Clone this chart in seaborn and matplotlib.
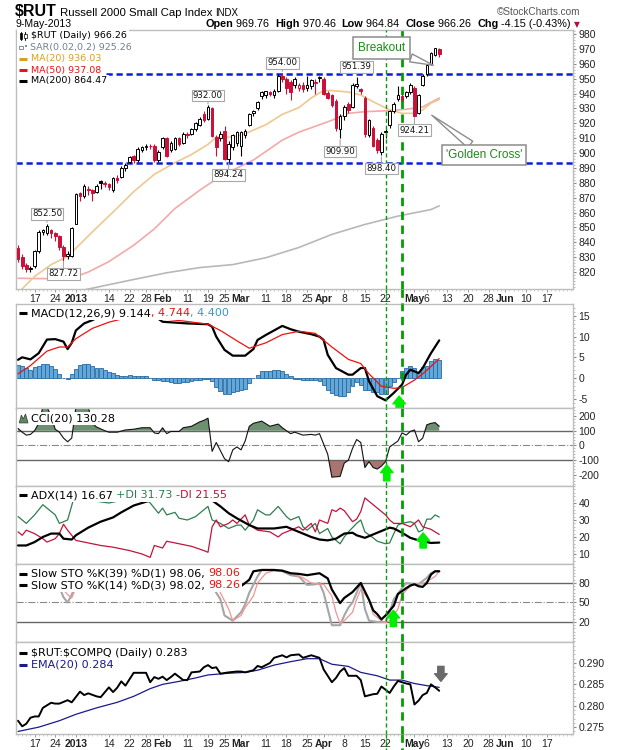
import numpy as np
import pandas as pd
import seaborn as sns
import matplotlib
matplotlib.use("Agg")
import matplotlib.pyplot as plt
import matplotlib.transforms as mtransforms
from matplotlib.lines import Line2D
from matplotlib.patches import Rectangle, Polygon
from matplotlib.ticker import FormatStrFormatter, MultipleLocator
from matplotlib.offsetbox import TextArea, HPacker, DrawingArea, AnchoredOffsetbox

# ---------------- data ----------------
holidays = ["2012-12-25", "2013-01-01", "2013-01-21", "2013-02-18", "2013-03-29", "2013-05-27"]

opens = [836, 830, 825, 822, 824, 834, 847, 846, 848, 846,
         844, 837, 831, 831, 852, 873, 871, 876, 875, 874,
         881, 880, 879, 875, 883, 884, 890, 894, 898, 895,
         902, 904, 905, 905, 895, 904, 910, 902, 903, 910,
         907, 913, 913, 916, 919, 926, 923, 930, 911, 910,
         915, 896, 904, 907, 905, 912, 919, 927, 930, 938,
         939, 941, 939, 942, 952, 950, 948, 946, 944, 946,
         944, 945, 947, 950.5, 950, 940.5, 939, 935, 916, 925,
         933, 931, 945, 943, 937, 912, 917, 909, 901, 914,
         919, 928, 936, 938, 938, 941, 944, 927, 946, 953,
         960, 966, 969.76]
highs = [838, 832, 826, 824, 835, 848, 849, 852.5, 849, 847,
         845, 838, 834, 850, 873, 874, 879, 878, 876, 879,
         882, 881, 880, 884, 885, 891, 893, 898, 899, 904,
         905, 906, 906, 906, 902, 911, 911, 908, 911, 911,
         914, 914, 917, 921, 924, 928, 932, 931, 912, 915,
         918, 908, 913, 915, 915, 916, 927, 929, 935, 942,
         942, 942, 943, 953, 954, 951, 949, 951, 947, 948,
         952, 950, 950, 951.5, 951, 942, 940, 936, 926, 932,
         934, 947, 951.39, 944, 938, 923, 918, 910, 914, 916,
         929, 934, 945, 940, 942, 947, 945, 940, 953, 960,
         968, 970.7, 970.46]
lows = [827, 822, 820, 820, 823, 833, 845, 845, 843, 841,
        835, 827.72, 829, 830, 852, 868, 870, 872, 868, 873,
        876, 877, 875, 874, 880, 883, 888, 893, 893, 894,
        901, 902, 903, 894, 894, 903, 897, 901, 902, 905,
        906, 910, 912, 915, 918, 921, 922, 911, 898, 908,
        895, 894.24, 902, 905, 898, 910, 918, 925, 929, 936,
        937, 938, 937, 941, 948, 940, 935.5, 944, 942, 941,
        942, 943, 940, 948, 939, 936, 931, 915, 909.9, 922,
        927, 930, 944, 940, 911, 911, 904, 900, 898.4, 910,
        917, 927, 935, 934, 937, 940, 924.21, 926, 945, 952,
        959, 965, 964.84]
closes = [829, 824, 822, 823, 834, 847, 848, 851, 846, 844,
          837, 831, 832, 849.35, 872.6, 871, 878, 875, 873, 878,
          880, 879, 877, 883, 882, 890, 892, 897, 895, 903,
          904, 905, 904.5, 895, 901, 910, 898, 907, 910, 906,
          913, 912, 916, 920, 923, 922, 931, 911.5, 904, 913,
          896, 906, 912, 914, 914, 915, 926, 928.5, 934, 941,
          941.5, 940, 942, 952, 950, 944, 941, 950, 946, 943,
          946, 949, 948, 951, 940, 937, 932, 917, 925, 931,
          929, 946, 946.5, 942, 913, 922, 905, 902, 913, 915,
          928, 933, 939, 935, 941, 946, 925, 939, 952, 959,
          967, 970.41, 966.26]

ma20_idx = [0, 4, 8, 12, 14, 18, 24, 28, 33, 38, 42, 46, 48, 52, 55, 60, 64, 68, 71, 74,
            76, 80, 83, 86, 90, 93, 96, 98, 100, 102]
ma20_val = [806, 817, 825, 830.5, 836, 847, 863, 874, 885.7, 893.5, 899, 905.8, 910.7, 910.7,
            913, 919, 926, 930.5, 937, 942, 942, 941, 939, 934.5, 929, 926.7, 926.7, 929, 933.5, 936]
ma50_idx = [0, 8, 14, 17, 22, 28, 33, 38, 44, 47, 52, 57, 60, 64, 68, 72, 76, 80, 84, 90, 94, 98, 102]
ma50_val = [815.8, 815.5, 817, 820, 827, 838, 849, 862.7, 875, 880.6, 888.5, 895.3, 901, 908.7,
            914, 918, 922, 926.7, 927.8, 928.5, 929.4, 931, 937]
ma200_idx = [16, 28, 36, 44, 52, 60, 68, 76, 84, 92, 100, 102]
ma200_val = [808, 815, 819.5, 823, 825, 829.6, 836.5, 845.3, 852, 857.6, 862, 864.5]

resistance = 953.0
support = 893.5

label_dates = ["2012-12-20", "2012-12-27", "2013-02-19", "2013-02-26", "2013-03-15",
               "2013-04-11", "2013-04-05", "2013-04-19", "2013-05-01"]
label_side = ["high", "low", "high", "low", "high", "high", "low", "low", "low"]

signal_dates = ["2013-04-22", "2013-04-26"]

macd_idx = [0, 1, 3, 5, 7, 9, 11, 12, 13, 14, 16, 18, 20, 21, 22, 25, 28, 31, 33, 35,
            38, 41, 46, 47, 48, 50, 52, 55, 57, 58, 60, 64, 66, 68, 71, 73, 74, 75, 77, 80,
            81, 83, 84, 85, 87, 89, 91, 93, 94, 95, 97, 98, 100, 102]
macd_val = [4.4, 5.0, 4.5, 6.0, 9.3, 9.4, 8.8, 7.0, 8.5, 11.5, 13.2, 14.0, 15.0, 15.5, 15.8, 15.2,
            15.6, 15.4, 15.0, 13.6, 13.4, 13.2, 13.0, 12.4, 10.0, 6.8, 5.4, 5.4, 7.0, 9.2,
            10.4, 12.6, 11.8, 11.2, 10.6, 10.0, 9.2, 5.6, 2.4, 0.8, 0.8, 2.4, 2.4, -0.8, -4.4,
            -5.4, -3.6, -1.6, 0.8, 2.0, 1.2, 2.4, 6.0, 9.1]
signal_idx = [0, 3, 7, 10, 12, 14, 18, 22, 26, 29, 34, 36, 40, 46, 49, 53, 56, 60, 64, 68,
              72, 76, 80, 83, 85, 88, 91, 93, 96, 98, 100, 102]
signal_val = [1.0, 3.0, 6.5, 7.5, 7.5, 9.5, 12.0, 13.5, 14.5, 15.0, 15.0, 14.2, 13.8, 13.0, 11.5,
              9.0, 7.2, 8.5, 10.5, 11.3, 10.8, 7.5, 4.5, 3.5, 1.0, -2.0, -2.5, -2.3, -0.5, 1.0,
              2.8, 4.7]
macd_hist = [3.2, 3.0, 2.5, 2.0, 2.6, 3.0, 3.4, 3.4, 2.8, 2.1,
             1.0, 0.0, -0.2, 1.0, 2.1, 3.1, 3.3, 3.3, 3.0, 2.5,
             2.5, 2.0, 1.5, 1.3, 0.8, 0.5, 0.6, 0.8, 0.6, 0.5,
             0.5, 0.4, 0.1, -0.4, -0.5, -0.8, -0.8, -1.0, -1.2, -1.2,
             -1.0, -1.0, -0.8, -0.6, -0.5, -0.2, -0.2, -0.8, -2.1, -3.1,
             -3.8, -3.9, -3.5, -3.2, -2.9, -2.6, -1.3, 0.1, 0.8, 1.7,
             1.8, 1.8, 2.0, 2.0, 1.6, 1.0, 0.5, -0.2, -0.3, -0.5,
             -0.5, -0.4, -0.5, -0.8, -1.8, -2.8, -3.7, -4.0, -4.4, -4.4,
             -3.5, -2.0, -0.9, -1.8, -2.8, -3.0, -3.3, -3.5, -3.8, -3.8,
             -2.0, -1.0, 0.1, 1.6, 2.5, 2.8, 2.3, 1.5, 2.6, 3.0,
             4.0, 4.6, 4.4]

cci_idx = [0, 1, 2, 3, 4, 5, 6, 7, 8, 9, 10, 11, 12, 13, 14, 17, 18, 19, 21, 22, 24, 26, 28, 30,
           32, 33, 34, 35, 36, 37, 39, 40, 42, 44, 45, 46, 47, 48, 50, 51, 52, 53, 54, 55, 56,
           57, 59, 61, 63, 64, 66, 67, 69, 71, 72, 73, 74, 75, 76, 78, 79, 80, 81, 82, 83, 84,
           85, 86, 87, 88, 89, 90, 92, 93, 94, 95, 96, 97, 98, 99, 100, 101, 102]
cci_val = [115, 90, 70, 75, 100, 150, 260, 260, 200, 110, 90, 50, 25, 50, 260, 260, 150, 125,
           100, 90, 90, 105, 110, 120, 120, 85, 80, 120, 80, 95, 95, 120, 130, 160, 170, 185,
           -40, 20, -90, -110, -30, -10, -30, 30, 130, 150, 165, 130, 145, 120, 80, 90, 70, 75,
           70, 80, 10, -60, -215, -210, -120, -100, -20, 40, 20, -150, -110, -150, -160, -140,
           -110, -10, 30, 85, 70, 95, 105, 25, 50, 140, 150, 155, 130]

adx_idx = [0, 2, 4, 6, 8, 10, 11, 13, 14, 17, 20, 23, 25, 28, 30, 32, 35, 39, 42, 44, 46, 47,
           49, 51, 53, 56, 58, 62, 65, 68, 71, 73, 75, 77, 79, 81, 82, 84, 86, 88, 90, 91, 93,
           95, 97, 99, 100, 102]
adx_val = [15, 15, 17, 20, 22, 22, 19, 18.5, 21, 25.5, 29, 31.5, 34.5, 38.5, 40, 41.5, 44, 43,
           43, 42.5, 43, 41.5, 38, 34, 31, 27, 25, 25, 26, 23, 20, 18.5, 18, 19, 22, 22.5, 21,
           19.5, 21.5, 23.5, 25.5, 25, 22.5, 19.5, 18, 17, 16.5, 16.7]
pdi_idx = [0, 1, 2, 4, 6, 7, 9, 10, 12, 14, 16, 19, 22, 24, 26, 28, 31, 32, 34, 35, 36, 38, 39,
           41, 43, 45, 46, 47, 49, 51, 53, 54, 55, 57, 58, 60, 61, 63, 65, 66, 68, 69, 70, 72,
           73, 75, 76, 78, 79, 80, 82, 83, 84, 86, 87, 89, 90, 91, 92, 93, 95, 96, 97, 98, 99,
           100, 101, 102]
pdi_val = [32, 30, 28, 33, 39, 37, 33, 28, 30, 47, 42, 41, 40, 41, 42, 45, 42, 40, 34, 37, 33,
           34.5, 31, 30, 32, 36, 38, 30, 28, 25, 27, 27, 24, 30, 36, 33, 33, 38, 32, 30, 32, 26,
           24, 28, 22, 25, 20, 16, 20, 23, 28, 30, 23, 19.5, 17.5, 16, 16.5, 22, 27, 28, 29, 28,
           23, 24, 30.5, 30.5, 33, 31.7]
mdi_idx = [0, 1, 2, 4, 6, 7, 9, 10, 11, 12, 14, 17, 20, 23, 27, 30, 32, 33, 35, 36, 39, 42, 45,
           46, 47, 48, 49, 51, 52, 53, 55, 56, 58, 61, 63, 64, 66, 68, 69, 71, 72, 73, 75, 76,
           77, 78, 79, 81, 82, 83, 84, 86, 87, 89, 90, 91, 93, 95, 97, 98, 100, 101, 102]
mdi_val = [23, 21, 24, 22, 19, 17, 19, 22, 27.5, 24, 18, 16.5, 15, 14, 12, 10, 8, 15, 13.5, 17.5,
           16, 14.5, 12, 11, 26, 30, 26, 28, 30, 28, 33, 27, 24, 23, 20, 22, 24, 26, 24, 28, 23,
           30, 28, 36, 35, 37, 35.5, 29, 30.5, 35, 43, 39, 37, 33, 30, 28, 28, 26, 30, 26, 24.5,
           23, 21.5]

sto39_idx = [46, 48, 50, 52, 53, 54, 56, 57, 59, 62, 64, 66, 68, 70, 72, 73, 75, 76, 78, 79,
             81, 83, 85, 86, 87, 88, 89, 91, 92, 94, 95, 96, 97, 98, 99, 100, 101, 102]
sto39_val = [93, 88, 84, 77, 75, 75, 85, 98, 100, 100, 99, 95, 94, 92, 94, 95, 87, 70, 49, 57,
             66, 80, 54, 38, 32, 24, 30, 45, 63, 72, 76, 78, 75, 74, 80, 93, 98, 98]
sto14k_idx = [2, 3, 4, 10, 11, 12, 13, 14, 46, 47, 49, 50, 52, 54, 55, 56, 58, 59, 62, 64, 66,
              68, 70, 72, 73, 74, 75, 76, 78, 79, 80, 81, 83, 84, 85, 87, 89, 90, 91, 93, 94,
              96, 97, 99, 100, 101, 102]
sto14k_val = [75, 71, 74, 74, 58, 50, 62, 77, 88, 75, 55, 30, 22, 35, 47, 65, 90, 100, 100, 98,
              92, 90, 77, 78, 80, 65, 40, 15, 15, 30, 42, 50, 80, 40, 22, 20, 20, 35, 55, 72, 80,
              78, 78, 88, 95, 98, 98]
sto14d_idx = [10, 12, 13, 14, 46, 48, 49, 51, 52, 54, 55, 57, 58, 60, 62, 64, 66, 69, 71, 73,
              74, 76, 77, 78, 79, 81, 82, 83, 85, 86, 88, 89, 90, 92, 93, 95, 96, 98, 99, 101, 102]
sto14d_val = [77, 62, 57, 72, 92, 85, 65, 40, 22, 30, 42, 60, 80, 95, 99, 98, 95, 88, 80, 78, 78,
              60, 35, 17, 22, 35, 55, 70, 55, 32, 22, 19, 22, 40, 62, 75, 79, 79, 82, 90, 98]

ratio_idx = [0, 1, 2, 3, 4, 5, 6, 8, 9, 10, 12, 13, 15, 16, 17, 19, 20, 22, 23, 24, 25, 26, 28,
             29, 31, 32, 33, 34, 35, 36, 37, 38, 40, 41, 42, 44, 45, 46, 47, 48, 49, 51, 53, 54,
             55, 57, 58, 59, 61, 62, 64, 65, 66, 68, 69, 71, 72, 73, 74, 75, 76, 77, 78, 79, 80,
             82, 83, 84, 86, 87, 88, 90, 91, 92, 94, 95, 96, 97, 98, 99, 100, 101, 102]
ratio_val = [0.2765, 0.2752, 0.2758, 0.2772, 0.2775, 0.2775, 0.2795, 0.2807, 0.2805, 0.2805,
             0.2813, 0.2808, 0.2833, 0.2825, 0.2829, 0.2822, 0.2820, 0.2843, 0.2832, 0.2842,
             0.2857, 0.2847, 0.2877, 0.2877, 0.2877, 0.2855, 0.2867, 0.2863, 0.2868, 0.2860,
             0.2867, 0.2875, 0.2860, 0.2860, 0.2878, 0.2880, 0.2890, 0.2895, 0.2888, 0.2890,
             0.2875, 0.2878, 0.2880, 0.2880, 0.2878, 0.2883, 0.2893, 0.2890, 0.2900, 0.2912,
             0.2918, 0.2913, 0.2918, 0.2920, 0.2912, 0.2918, 0.2915, 0.2912, 0.2885, 0.2870,
             0.2855, 0.2865, 0.2880, 0.2888, 0.2870, 0.2870, 0.2860, 0.2822, 0.2827, 0.2828,
             0.2845, 0.2830, 0.2845, 0.2858, 0.2852, 0.2850, 0.2803, 0.2812, 0.2825, 0.2830,
             0.2850, 0.2843, 0.2835]
ema_idx = [0, 5, 10, 14, 19, 24, 28, 32, 35, 39, 43, 46, 51, 55, 58, 62, 66, 70, 73, 76,
           80, 83, 87, 90, 93, 96, 99, 102]
ema_val = [0.2740, 0.2750, 0.2765, 0.2780, 0.2795, 0.2808, 0.2822, 0.2840, 0.2850, 0.2857,
           0.2865, 0.2872, 0.2876, 0.2878, 0.2883, 0.2895, 0.2903, 0.2910, 0.2910, 0.2897,
           0.2892, 0.2878, 0.2870, 0.2860, 0.2860, 0.2852, 0.2847, 0.2843]

tick_dates = ["2012-12-17", "2012-12-24", "2013-01-02", "2013-01-14", "2013-01-22", "2013-01-28",
              "2013-02-01", "2013-02-11", "2013-02-19", "2013-02-25", "2013-03-01", "2013-03-11",
              "2013-03-18", "2013-03-25", "2013-04-01", "2013-04-08", "2013-04-15", "2013-04-22",
              "2013-05-01", "2013-05-06", "2013-05-13", "2013-05-20", "2013-05-28", "2013-06-03",
              "2013-06-10", "2013-06-17"]
tick_text = ["17", "24", "2013", "14", "22", "28", "Feb", "11", "19", "25", "Mar", "11", "18",
             "25", "Apr", "8", "15", "22", "May", "6", "13", "20", "28", "Jun", "10", "17"]

# ---------------- set-up ----------------
sns.set_theme(style="white")
plt.rcParams["font.family"] = ["Liberation Sans", "DejaVu Sans"]
plt.rcParams["axes.unicode_minus"] = False

cal = pd.bdate_range("2012-12-11", "2013-07-03")
cal = cal[~cal.isin(pd.to_datetime(holidays))]
pos = {d.strftime("%Y-%m-%d"): i for i, d in enumerate(cal)}
days = np.arange(len(closes))

W, H = 620, 750
fig = plt.figure(figsize=(6.2, 7.5), dpi=100)
fig.patch.set_facecolor("white")


def px_rect(y0, y1, x0=16, x1=573):
    return [x0 / W, 1 - y1 / H, (x1 - x0) / W, (y1 - y0) / H]


ax_main = fig.add_axes(px_rect(30, 289))
ax_macd = fig.add_axes(px_rect(304, 408))
ax_cci = fig.add_axes(px_rect(408, 486))
ax_adx = fig.add_axes(px_rect(486, 564))
ax_sto = fig.add_axes(px_rect(564, 642))
ax_rat = fig.add_axes(px_rect(642, 734))
axes = [ax_main, ax_macd, ax_cci, ax_adx, ax_sto, ax_rat]

RED = "#cc1038"
GREEN = "#00a000"

# ---------------- price panel ----------------
for i in days:
    o, h, l, c = opens[i], highs[i], lows[i], closes[i]
    prev = closes[i - 1] if i > 0 else o
    col = RED if c < prev else "black"
    filled = c < o
    ax_main.vlines(i, l, h, color=col, lw=0.8, zorder=3)
    ax_main.add_patch(Rectangle((i - 0.32, min(o, c)), 0.64, max(abs(c - o), 0.35),
                                facecolor=col if filled else "white", edgecolor=col,
                                lw=0.7, zorder=3.1))

sns.lineplot(x=ma200_idx, y=ma200_val, ax=ax_main, color="#b8b8b8", linewidth=1.2, zorder=2)
sns.lineplot(x=ma50_idx, y=ma50_val, ax=ax_main, color="#f4a9a9", linewidth=1.2, zorder=2)
sns.lineplot(x=ma20_idx, y=ma20_val, ax=ax_main, color="#efc890", linewidth=1.2, zorder=2)

for lvl in (resistance, support):
    ax_main.axhline(lvl, color="#0a1ed8", lw=1.8, ls=(0, (2.5, 1.5)), zorder=2.5)

for d, side in zip(label_dates, label_side):
    i = pos[d]
    val = highs[i] if side == "high" else lows[i]
    ax_main.annotate(f"{val:.2f}", xy=(i, val), xytext=(0, 7 if side == "high" else -9.5),
                     textcoords="offset points", ha="center", va="center", fontsize=6.2,
                     family="DejaVu Sans", color="#111111", zorder=5,
                     bbox=dict(boxstyle="square,pad=0.15", fc="white", ec="#a8a8a8", lw=0.8),
                     arrowprops=dict(arrowstyle="-", color="#a8a8a8", lw=0.8, shrinkA=0, shrinkB=1))

ax_main.annotate("Breakout", xy=(100.6, 959), xytext=(88.1, 970.3), textcoords="data",
                 ha="center", va="center", fontsize=8.5, color="#1b8a1b", zorder=6,
                 bbox=dict(boxstyle="square,pad=0.42", fc="white", ec="#8c8c8c", lw=1.1),
                 arrowprops=dict(arrowstyle="wedge,tail_width=0.7,shrink_factor=0.5",
                                 fc="white", ec="#8c8c8c", lw=1, shrinkA=0, shrinkB=0))
ax_main.annotate("'Golden Cross'", xy=(100.2, 925.4), xytext=(112.8, 898.8), textcoords="data",
                 ha="center", va="center", fontsize=8.5, color="#1b8a1b", zorder=6,
                 bbox=dict(boxstyle="square,pad=0.32", fc="white", ec="#8c8c8c", lw=1.1),
                 arrowprops=dict(arrowstyle="wedge,tail_width=0.7,shrink_factor=0.5",
                                 fc="white", ec="#8c8c8c", lw=1, shrinkA=0, shrinkB=0))
ax_main.set_ylim(808.6, 982.7)
ax_main.set_yticks(np.arange(820, 981, 10))
ax_main.yaxis.set_minor_locator(MultipleLocator(2))

# ---------------- MACD ----------------
ax_macd.bar(days, macd_hist, width=0.95, color="#62a8d8", edgecolor="#2a69a0", lw=0.6, zorder=2)
sns.lineplot(x=macd_idx, y=macd_val, ax=ax_macd, color="black", linewidth=1.6, zorder=3)
sns.lineplot(x=signal_idx, y=signal_val, ax=ax_macd, color="#ee1111", linewidth=0.9, zorder=3)
ax_macd.set_ylim(-7.26, 17.9)
ax_macd.set_yticks([-5, 0, 5, 10, 15])
ax_macd.yaxis.set_minor_locator(MultipleLocator(1))

# ---------------- CCI ----------------
cx = np.array(cci_idx, dtype=float)
cy = np.array(cci_val, dtype=float)
ax_cci.fill_between(cx, cy, 100, where=cy > 100, interpolate=True, color="#6d9070", lw=0, zorder=1)
ax_cci.fill_between(cx, cy, -100, where=cy < -100, interpolate=True, color="#a87570", lw=0, zorder=1)
ax_cci.axhline(100, color="#666666", lw=1.0, zorder=1.5)
ax_cci.axhline(-100, color="#666666", lw=1.0, zorder=1.5)
ax_cci.axhline(0, color="#888888", lw=0.8, ls="-.", zorder=1.5)
sns.lineplot(x=cci_idx, y=cci_val, ax=ax_cci, color="#111111", linewidth=0.8, zorder=2)
ax_cci.set_ylim(-275, 254)
ax_cci.set_yticks([-200, -100, 0, 100, 200])
ax_cci.yaxis.set_minor_locator(MultipleLocator(20))

# ---------------- ADX ----------------
sns.lineplot(x=pdi_idx, y=pdi_val, ax=ax_adx, color="#2e7d4f", linewidth=0.9, zorder=2)
sns.lineplot(x=mdi_idx, y=mdi_val, ax=ax_adx, color="#c0143c", linewidth=0.9, zorder=2)
sns.lineplot(x=adx_idx, y=adx_val, ax=ax_adx, color="black", linewidth=1.6, zorder=3)
ax_adx.set_ylim(4.1, 50)
ax_adx.set_yticks([10, 20, 30, 40])
ax_adx.yaxis.set_minor_locator(MultipleLocator(2))


# ---------------- Slow stochastics ----------------
def runs(idx, vals, gap=3):
    out, cur = [], [[idx[0]], [vals[0]]]
    for a, b in zip(idx[1:], vals[1:]):
        if a - cur[0][-1] > gap:
            out.append(cur)
            cur = [[a], [b]]
        else:
            cur[0].append(a)
            cur[1].append(b)
    out.append(cur)
    return out


ax_sto.axhline(80, color="#666666", lw=1.0, zorder=1)
ax_sto.axhline(20, color="#666666", lw=1.0, zorder=1)
ax_sto.axhline(50, color="#888888", lw=0.8, ls="-.", zorder=1)
for xs, ys in runs(sto14k_idx, sto14k_val):
    sns.lineplot(x=xs, y=ys, ax=ax_sto, color="#a6a6a6", linewidth=1.5, zorder=2)
for xs, ys in runs(sto14d_idx, sto14d_val):
    sns.lineplot(x=xs, y=ys, ax=ax_sto, color="#f29494", linewidth=0.9, zorder=2.2)
sns.lineplot(x=sto39_idx, y=sto39_val, ax=ax_sto, color="black", linewidth=1.6, zorder=3)
ax_sto.set_ylim(-10.8, 109.2)
ax_sto.set_yticks([20, 50, 80])
ax_sto.yaxis.set_minor_locator(MultipleLocator(5))

# ---------------- $RUT:$COMPQ ----------------
sns.lineplot(x=ema_idx, y=ema_val, ax=ax_rat, color="#1a1a8c", linewidth=0.9, zorder=2)
sns.lineplot(x=ratio_idx, y=ratio_val, ax=ax_rat, color="black", linewidth=1.4, zorder=3)
ax_rat.set_ylim(0.2734, 0.2949)
ax_rat.set_yticks([0.275, 0.280, 0.285, 0.290])
ax_rat.yaxis.set_major_formatter(FormatStrFormatter("%.3f"))
ax_rat.yaxis.set_minor_locator(MultipleLocator(0.001))

# ---------------- block arrows ----------------
def block_arrow(ax, x, y_tip, y_base, color):
    ax.annotate("", xy=(x, y_tip), xytext=(x, y_base), zorder=6, annotation_clip=False,
                arrowprops=dict(arrowstyle="simple,head_length=0.55,head_width=0.9,tail_width=0.45",
                                color=color, shrinkA=0, shrinkB=0, mutation_scale=10))


block_arrow(ax_macd, 92.3, -4.4, -7.2, "#00ee00")
block_arrow(ax_cci, 89.3, -132, -240, "#00ee00")
block_arrow(ax_adx, 98.1, 22.4, 13.5, "#00ee00")
block_arrow(ax_sto, 90.9, 38, 13, "#00ee00")
block_arrow(ax_rat, 102.4, 0.2857, 0.2892, "#6a6a6a")

# ---------------- axes styling ----------------
tick_pos = [pos[d] for d in tick_dates]
for ax in axes:
    ax.set_xlim(-0.5, 134.4)
    ax.set_xlabel("")
    ax.set_ylabel("")
    for sp in ax.spines.values():
        sp.set_color("#bdbdbd")
        sp.set_linewidth(1.0)
    ax.yaxis.tick_right()
    ax.tick_params(axis="y", which="major", direction="out", length=2.5, width=0.8,
                   color="#8a8a8a", pad=1.5, labelsize=7.5, labelcolor="#222222",
                   right=True, left=False)
    ax.tick_params(axis="y", which="minor", direction="out", length=1.3, width=0.6,
                   color="#b0b0b0", right=True, left=False)
    ax.set_xticks(tick_pos)
    ax.tick_params(axis="x", which="both", length=0, labelbottom=False)

for ax in (ax_main, ax_rat):
    ax.set_xticks(tick_pos)
    ax.set_xticklabels(tick_text)
    ax.set_xticks(np.arange(0, 135), minor=True)
    ax.tick_params(axis="x", which="major", bottom=True, length=2, width=0.7, color="#999999",
                   labelbottom=True, labelsize=7.5, pad=1.5, labelcolor="#222222")
    ax.tick_params(axis="x", which="minor", bottom=True, length=1.1, width=0.5, color="#bbbbbb")
    for lbl, t in zip(ax.get_xticklabels(), tick_text):
        if not t.isdigit() or len(t) == 4:
            lbl.set_fontweight("bold")

# ---------------- green signal verticals ----------------
blend = mtransforms.blended_transform_factory(ax_main.transData, fig.transFigure)
for d, lw in zip(signal_dates, [1.0, 2.0]):
    x = pos[d]
    for ax in axes:
        ax.axvline(x, color=GREEN, lw=lw, ls=(0, (3, 2)), zorder=3.5)
    for y0, y1 in [(289, 304), (734, 750)]:
        fig.add_artist(Line2D([x, x], [1 - y0 / H, 1 - y1 / H], transform=blend, color=GREEN,
                              lw=lw, ls=(0, (3, 2))))


# ---------------- legends / labels ----------------
def dash_icon(color, lw=2.2):
    da = DrawingArea(8.5, 6, 0, 0)
    da.add_artist(Line2D([0.3, 5.6], [3, 3], color=color, lw=lw, solid_capstyle="butt"))
    return da


def candle_icon():
    da = DrawingArea(9, 7, 0, 0)
    da.add_artist(Line2D([1.6, 1.6], [0.3, 6.7], color="black", lw=0.7))
    da.add_artist(Rectangle((0.6, 1.5), 2.0, 4.0, fc="black", ec="black", lw=0.5))
    da.add_artist(Line2D([4.6, 4.6], [0.3, 6.7], color="black", lw=0.7))
    da.add_artist(Rectangle((3.6, 2.0), 2.0, 3.2, fc="white", ec="black", lw=0.5))
    return da


def sar_icon():
    da = DrawingArea(8, 6, 0, 0)
    da.add_artist(Rectangle((0.4, 1.6), 2.8, 2.8, fc="white", ec="#8090a0", lw=0.7))
    da.add_artist(Rectangle((4.4, 3.6), 1.2, 1.2, fc="#8090a0", ec="none"))
    return da


def mountain_icon():
    da = DrawingArea(9, 7, 0, 0)
    da.add_artist(Polygon([(0.3, 0.3), (1.8, 6.0), (3.2, 3.2), (4.8, 6.8), (6.6, 0.3)],
                          closed=True, fc="#5e8a60", ec="#333333", lw=0.5))
    return da


def legend_row(ax, x_px, y_px, parts, icon=None, size=8.0, loc="center left"):
    kids = [icon] if icon is not None else []
    for s, c in parts:
        kids.append(TextArea(s, textprops=dict(color=c, fontsize=size, family="DejaVu Sans")))
    row = HPacker(children=kids, align="center", pad=0, sep=0)
    box = AnchoredOffsetbox(loc=loc, child=row, pad=0.12, borderpad=0, frameon=True,
                            bbox_to_anchor=(x_px / W, 1 - y_px / H),
                            bbox_transform=fig.transFigure)
    box.patch.set_facecolor("white")
    box.patch.set_edgecolor("none")
    box.set_zorder(7)
    ax.add_artist(box)


legend_row(ax_main, 17, 36, [(f"\\$RUT (Daily) {closes[-1]:.2f}", "black")], candle_icon(), 6.8)
legend_row(ax_main, 17, 47.5, [("SAR(0.02,0.2) 925.26", "#708090")], sar_icon(), 6.8)
legend_row(ax_main, 17, 59, [("MA(20) 936.03", "#d8a020")], dash_icon("#d8a020"), 6.8)
legend_row(ax_main, 17, 70, [("MA(50) 937.08", "#ee1111")], dash_icon("#ee1111"), 6.8)
legend_row(ax_main, 17, 81, [("MA(200) 864.47", "black")], dash_icon("black"), 6.8)

legend_row(ax_macd, 17, 313.5, [("MACD(12,26,9) 9.144", "black"), (", 4.744", "#ee1111"),
                                (", 4.400", "#3a96cc")], dash_icon("black"))
legend_row(ax_cci, 17, 418.5, [("CCI(20) 130.28", "black")], mountain_icon())
legend_row(ax_adx, 17, 495.5, [("ADX(14) 16.67 ", "black"), ("+DI 31.73 ", "#2e7d4f"),
                               ("-DI 21.55", "#b5163b")], dash_icon("black"))
legend_row(ax_sto, 17, 573.5, [("Slow STO %K(39) %D(1) 98.06, ", "black"), ("98.06", "#ee1111")],
           dash_icon("black"))
legend_row(ax_sto, 17, 585, [("Slow STO %K(14) %D(3) 98.02, ", "black"), ("98.26", "#ee1111")],
           dash_icon("black"))
legend_row(ax_rat, 17, 652.5, [(f"\\$RUT:\\$COMPQ (Daily) {ratio_val[-1]:.3f}", "black")],
           dash_icon("black"))
legend_row(ax_rat, 17, 664.5, [(f"EMA(20) {ema_val[-1]:.3f}", "#1a1a8c")], dash_icon("#1a1a8c"))

# ---------------- header ----------------
hdr = HPacker(children=[
    TextArea("\\$RUT", textprops=dict(fontsize=11.5, fontweight="bold", color="black",
                                      family=["Liberation Sans Narrow", "Liberation Sans"])),
    TextArea(" Russell 2000 Small Cap Index ", textprops=dict(fontsize=8.2, color="black")),
    TextArea("INDX", textprops=dict(fontsize=7, color="black")),
], align="baseline", pad=0, sep=0)
hb = AnchoredOffsetbox(loc="center left", child=hdr, pad=0, borderpad=0, frameon=False,
                       bbox_to_anchor=(15 / W, 1 - 12 / H), bbox_transform=fig.transFigure)
fig.add_artist(hb)

fig.text(16 / W, 1 - 24 / H, "9-May-2013", fontsize=7.6, color="black", va="center", ha="left")
fig.text(580 / W, 1 - 12 / H, "\u00a9StockCharts.com", fontsize=7.2, color="#555555",
         va="center", ha="right")

chg = closes[-1] - closes[-2]
pct = chg / closes[-2] * 100
ohlc_parts = [("Open", True), (f" {opens[-1]:.2f}  ", False), ("High", True),
              (f" {highs[-1]:.2f}  ", False), ("Low", True), (f" {lows[-1]:.2f}  ", False),
              ("Close", True), (f" {closes[-1]:.2f}  ", False), ("Chg", True),
              (f" {chg:.2f} ({pct:.2f}%)", False)]
ohlc = HPacker(children=[TextArea(s, textprops=dict(fontsize=7.8, color="black",
                                                    fontweight="bold" if b else "normal"))
                         for s, b in ohlc_parts], align="baseline", pad=0, sep=0)
ob = AnchoredOffsetbox(loc="center right", child=ohlc, pad=0, borderpad=0, frameon=False,
                       bbox_to_anchor=(571 / W, 1 - 24 / H), bbox_transform=fig.transFigure)
fig.add_artist(ob)
fig.text(577 / W, 1 - 24.5 / H, "\u25bc", fontsize=5.5, color="#b0103a", va="center",
         ha="center", family="DejaVu Sans")

fig.savefig("out.png", dpi=100, facecolor="white")
